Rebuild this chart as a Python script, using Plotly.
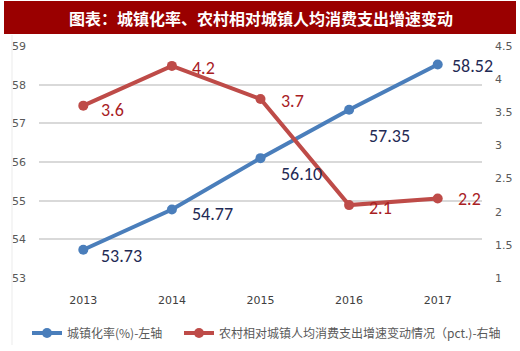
import plotly.graph_objects as go

years = ["2013", "2014", "2015", "2016", "2017"]
urban_rate = [53.73, 54.77, 56.10, 57.35, 58.52]
rural_rel = [3.6, 4.2, 3.7, 2.1, 2.2]
urban_labels = ["53.73", "54.77", "56.10", "57.35", "58.52"]
rural_labels = ["3.6", "4.2", "3.7", "2.1", "2.2"]
left_ticks = [53, 54, 55, 56, 57, 58, 59]
right_ticks = [1, 1.5, 2, 2.5, 3, 3.5, 4, 4.5]

BLUE = "#4A7EBB"
RED = "#BE4B48"
FONT = "Noto Sans CJK SC"
NUMFONT = "Carlito, Calibri, Liberation Sans"

fig = go.Figure()
fig.add_trace(go.Scatter(
    x=years, y=urban_rate, mode="lines+markers", name="城镇化率(%)-左轴",
    line=dict(color=BLUE, width=4), marker=dict(size=10, color=BLUE),
    yaxis="y", legend="legend",
))
fig.add_trace(go.Scatter(
    x=years, y=rural_rel, mode="lines+markers",
    name="农村相对城镇人均消费支出增速变动情况（pct.)-右轴",
    line=dict(color=RED, width=4), marker=dict(size=10, color=RED),
    yaxis="y2", legend="legend2",
))

# data label offsets (xshift, yshift)
u_off = [(16, -6), (18, -4), (18, -16), (18, -26), (12, -1)]
r_off = [(16, -4), (18, -2), (18, -2), (18, -3), (18, -1)]
for i in range(len(years)):
    fig.add_annotation(x=i, xref="x", y=urban_rate[i], yref="y", text=urban_labels[i],
                       showarrow=False, xanchor="left", yanchor="middle",
                       xshift=u_off[i][0], yshift=u_off[i][1],
                       font=dict(size=18, color="#1F2A55", family=NUMFONT))
    fig.add_annotation(x=i, xref="x", y=rural_rel[i], yref="y2", text=rural_labels[i],
                       showarrow=False, xanchor="left", yanchor="middle",
                       xshift=r_off[i][0], yshift=r_off[i][1],
                       font=dict(size=18, color="#A8201F", family=NUMFONT))

# faint chart-area border on the left
fig.add_shape(type="line", xref="paper", yref="paper",
              x0=(12 - 39) / 443, x1=(12 - 39) / 443,
              y0=(278 - 345) / 232, y1=(278 - 35) / 232,
              line=dict(color="#EBEBEB", width=1))

# title banner
fig.add_shape(type="rect", xref="paper", yref="paper",
              x0=(4 - 39) / 443, x1=(516 - 39) / 443,
              y0=(278 - 34) / 232, y1=(278 - 1) / 232,
              fillcolor="#9A0000", line=dict(width=0), layer="above")
fig.add_annotation(xref="paper", yref="paper", x=(261 - 39) / 443, y=(278 - 18) / 232,
                   text="<b>图表：城镇化率、农村相对城镇人均消费支出增速变动</b>",
                   showarrow=False, xanchor="center", yanchor="middle",
                   font=dict(size=16, color="white", family=FONT))

leg_common = dict(orientation="h", xref="container", yref="container",
                  y=1 - 333 / 351, xanchor="left", yanchor="middle",
                  font=dict(size=12, color="#595959", family=FONT),
                  itemwidth=30, bgcolor="rgba(0,0,0,0)")

fig.update_layout(
    width=520, height=351,
    margin=dict(l=39, r=38, t=46, b=73, autoexpand=False),
    paper_bgcolor="white", plot_bgcolor="white",
    font=dict(family=FONT, color="#595959"),
    showlegend=True,
    legend=dict(x=27 / 520, **leg_common),
    legend2=dict(x=179 / 520, **leg_common),
    xaxis=dict(type="category", range=[-0.5, 4.5], showgrid=False, zeroline=False,
               showline=False, ticks="",
               tickfont=dict(size=11, color="#404040", family="DejaVu Sans"), ticklabelstandoff=14),
    yaxis=dict(range=[53, 59], tickvals=left_ticks, showgrid=True,
               gridcolor="#D9D9D9", gridwidth=2, zeroline=False, showline=False,
               tickfont=dict(size=11, color="#595959", family="DejaVu Sans"), ticklabelstandoff=12),
    yaxis2=dict(range=[1, 4.5], tickvals=right_ticks, overlaying="y", side="right",
                showgrid=False, zeroline=False, showline=False,
                tickfont=dict(size=11, color="#595959", family="DejaVu Sans"), ticklabelstandoff=12),
)

fig.write_html("out.html")
